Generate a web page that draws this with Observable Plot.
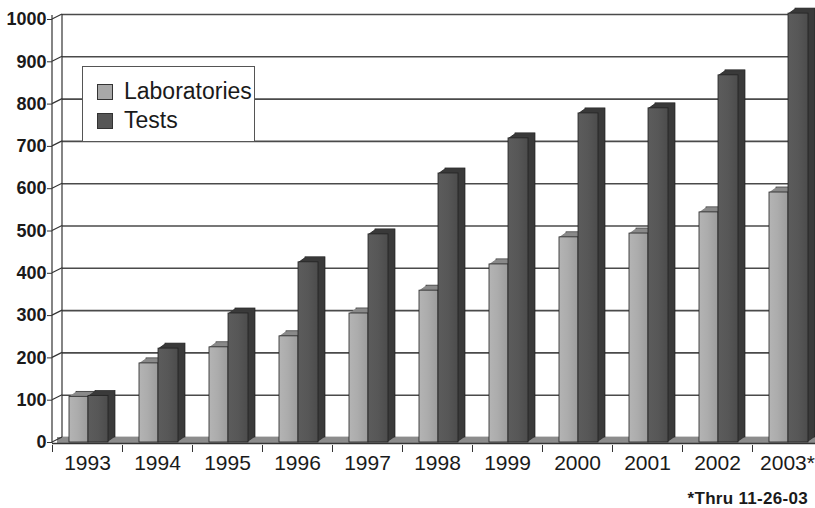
<!DOCTYPE html>
<html>
<head>
<meta charset="utf-8">
<script src="https://cdn.jsdelivr.net/npm/d3@7"></script>
<script src="https://cdn.jsdelivr.net/npm/@observablehq/plot@0.6"></script>
<style>
  body { margin: 0; background: #fff; font-family: "Liberation Sans", Arial, sans-serif; }
  #wrap { position: relative; width: 815px; height: 508px; overflow: hidden; background: #fff; }
  #legend { position: absolute; left: 82px; top: 66px; width: 173px; height: 76px; box-sizing: border-box;
            border: 1.5px solid #555; background: #fff; padding-top: 10px; overflow: visible; white-space: nowrap; }
  .item { display: flex; align-items: center; height: 29px; padding-left: 14px; font-size: 23px; color: #1a1a1a; }
  .sw { width: 14px; height: 14px; border: 1px solid #333; margin-right: 11px; flex: none; }
  #caption { position: absolute; right: 7px; top: 489px; font-size: 17px; font-weight: bold; color: #1a1a1a; letter-spacing: 0.3px; }
</style>
</head>
<body>
<div id="wrap"></div>
<script>
// ---- data ----
const years = ["1993", "1994", "1995", "1996", "1997", "1998", "1999", "2000", "2001", "2002", "2003*"];
const laboratories = [108, 187, 225, 251, 305, 359, 421, 485, 494, 544, 591];
const tests = [110, 222, 305, 426, 492, 636, 719, 778, 790, 868, 1014];
const seriesNames = ["Laboratories", "Tests"];
const yTicks = [0, 100, 200, 300, 400, 500, 600, 700, 800, 900, 1000];
const footnote = "*Thru 11-26-03";

// ---- style ----
const frontFills = ["url(#gradLab)", "url(#gradTests)"];
const swatchColors = ["#a8a8a8", "#565656"];
const sideColors = ["#8a8a8a", "#3a3a3a"];
const insets = [{insetLeft: 17, insetRight: 34}, {insetLeft: 36, insetRight: 14}];
const depthX = 7, depthY = 5, layers = 7;
const wallX = 10, wallY = 5;

const seriesData = [laboratories, tests].map((vals, k) =>
  years.map((year, i) => ({year, value: vals[i], series: seriesNames[k]})));

function defs() {
  const d = d3.create("svg:defs");
  const g1 = d.append("linearGradient").attr("id", "gradLab").attr("x1", 0).attr("x2", 1).attr("y1", 0).attr("y2", 0);
  g1.append("stop").attr("offset", "0%").attr("stop-color", "#b4b4b4");
  g1.append("stop").attr("offset", "45%").attr("stop-color", "#acacac");
  g1.append("stop").attr("offset", "100%").attr("stop-color", "#9c9c9c");
  const g2 = d.append("linearGradient").attr("id", "gradTests").attr("x1", 0).attr("x2", 1).attr("y1", 0).attr("y2", 0);
  g2.append("stop").attr("offset", "0%").attr("stop-color", "#5c5c5c");
  g2.append("stop").attr("offset", "50%").attr("stop-color", "#575757");
  g2.append("stop").attr("offset", "100%").attr("stop-color", "#4c4c4c");
  return d.node();
}

function wallFrame(index, scales, values, dimensions) {
  const y = scales.y;
  const left = dimensions.marginLeft;
  const g = d3.create("svg:g").attr("fill", "none").attr("stroke", "#333").attr("stroke-width", 1.2);
  const y0 = y(0), yTop = y(d3.max(yTicks));
  g.append("line").attr("x1", left).attr("x2", left).attr("y1", yTop - 4).attr("y2", y0 + 1);
  g.append("line").attr("x1", left + wallX).attr("x2", left + wallX).attr("y1", yTop - wallY).attr("y2", y0 - wallY);
  for (const t of yTicks) {
    g.append("line").attr("x1", left).attr("x2", left + wallX).attr("y1", y(t)).attr("y2", y(t) - wallY);
  }
  return g.node();
}

function barMarks(data, k) {
  const marks = [];
  for (let i = layers; i >= 1; --i) {
    marks.push(Plot.barY(data, {
      x: "year", y: "value", ...insets[k],
      fill: sideColors[k],
      stroke: i === layers ? "#222" : "none", strokeWidth: 0.7,
      dx: i * depthX / layers, dy: -i * depthY / layers
    }));
  }
  marks.push(Plot.barY(data, {
    x: "year", y: "value", ...insets[k],
    fill: frontFills[k], stroke: "#222", strokeWidth: 0.8
  }));
  return marks;
}

const chart = Plot.plot({
  width: 815,
  height: 480,
  marginLeft: 52,
  marginRight: 0,
  marginTop: 19,
  marginBottom: 38,
  style: {fontFamily: "'Liberation Sans', Arial, sans-serif", background: "#fff", overflow: "visible"},
  x: {domain: years, range: [52, 822], padding: 0},
  y: {domain: [0, 1000]},
  marks: [
    defs,
    Plot.ruleY(yTicks, {stroke: "#4a4a4a", strokeWidth: 1.6, dx: wallX, dy: -wallY}),
    Plot.ruleY([0], {stroke: "#8c8c8c", strokeWidth: 6, dx: 5, dy: -2.5}),
    Plot.ruleY([0], {stroke: "#333", strokeWidth: 1.6, dy: 1}),
    wallFrame,
    ...barMarks(seriesData[0], 0),
    ...barMarks(seriesData[1], 1),
    Plot.axisY(yTicks, {tickSize: 5, tickPadding: 1, fontSize: 18, fontWeight: "bold",
      fill: "#1a1a1a", stroke: "#333", tickFormat: d => String(d), label: null}),
    Plot.axisX({tickSize: 0, tickPadding: 13, fontSize: 21, fill: "#1a1a1a", label: null}),
    Plot.axisX({tickSize: 7, text: null, stroke: "#333", dx: -35, dy: 3, label: null})
  ]
});

const wrap = document.getElementById("wrap");
wrap.appendChild(chart);

const legend = document.createElement("div");
legend.id = "legend";
seriesNames.forEach((name, k) => {
  const item = document.createElement("div");
  item.className = "item";
  const sw = document.createElement("span");
  sw.className = "sw";
  sw.style.background = swatchColors[k];
  item.appendChild(sw);
  item.appendChild(document.createTextNode(name));
  legend.appendChild(item);
});
wrap.appendChild(legend);

const cap = document.createElement("div");
cap.id = "caption";
cap.textContent = footnote;
wrap.appendChild(cap);
</script>
</body>
</html>
